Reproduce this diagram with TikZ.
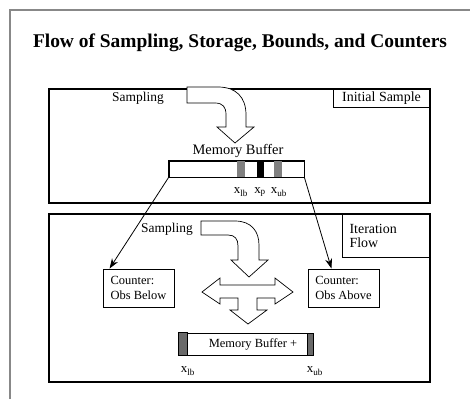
\documentclass[tikz,border=0pt]{standalone}
\usepackage{fontspec}
\setmainfont{Liberation Serif}
\usetikzlibrary{arrows.meta}
\definecolor{framegray}{RGB}{136,136,136}
\definecolor{bargray}{RGB}{128,128,128}
\definecolor{bardark}{RGB}{105,105,105}
\tikzstyle{panel} = [draw, line width=1.1pt]
\tikzstyle{tag} = [draw, line width=0.9pt, inner sep=0pt]
\tikzstyle{counter} = [draw, line width=0.9pt, minimum width=71bp,
    minimum height=38bp, align=left, font=\fontsize{12.5}{15}\selectfont]
\tikzstyle{fatarrow} = [draw, line width=0.7pt, fill=white, line join=miter]
\tikzstyle{txt} = [font=\fontsize{13.5}{15}\selectfont, inner sep=0pt]
\tikzstyle{xlab} = [font=\fontsize{13}{15}\selectfont, inner sep=0pt]
\tikzstyle{link} = [draw, line width=0.8pt, -{Stealth[length=10bp, width=7bp]}]

\begin{document}
\begin{tikzpicture}[x=1bp, y=-1bp]
    \useasboundingbox (0,0) rectangle (470,399);
    % outer frame and title
    \draw [framegray, line width=2bp] (10,399) -- (10,10) -- (470,10);
    \node [font=\bfseries\fontsize{19.5}{22}\selectfont] (title) at (240,43)
        {Flow of Sampling, Storage, Bounds, and Counters};
    % initial sample panel
    \draw [panel] (49,89) rectangle (430,203);
    \node [tag, minimum width=96bp, minimum height=18bp, anchor=north east,
        font=\fontsize{14}{16}\selectfont] (init) at (430,89) {Initial Sample};
    \node [txt] (samp1) at (138,98) {Sampling};
    \draw [fatarrow] (187,87) -- (218,87) .. controls (236,87) and (246,97) .. (246,115)
        -- (246,127) -- (254,127) -- (235,143) -- (217,127) -- (226,127) -- (226,115)
        .. controls (226,107) and (223,103) .. (215,103) -- (187,103) -- cycle;
    \node [draw, line width=0.8pt, minimum width=135bp, minimum height=16bp,
        inner sep=0pt] (buf) at (236.5,169) {};
    \fill [bargray] (237,161) rectangle (245,177);
    \fill [black] (257,161) rectangle (264,177);
    \fill [bargray] (274,161) rectangle (282,177);
    \draw [line width=0.8pt] (buf.north west) rectangle (buf.south east);
    \node [txt, font=\fontsize{14.5}{16}\selectfont] (buflab) at (238,151) {Memory Buffer};
    \node [xlab] (lb1) at (241,192) {x\textsubscript{lb}};
    \node [xlab] (p1) at (260,192) {x\textsubscript{p}};
    \node [xlab] (ub1) at (279,192) {x\textsubscript{ub}};
    % iteration panel
    \draw [panel] (49,214) rectangle (430,382);
    \node [tag, minimum height=43bp, text width=73bp, inner xsep=7bp, align=left,
        anchor=north east, font=\fontsize{14}{15}\selectfont] (iter) at (430,214)
        {Iteration\\Flow};
    \node [txt] (samp2) at (167,229) {Sampling};
    \draw [fatarrow] (201,221) -- (235,221) .. controls (252,221) and (259,232) .. (259,245)
        -- (259,260) -- (268,260) -- (249,277) -- (231,260) -- (238,260) -- (238,246)
        .. controls (238,239) and (235,235) .. (228,235) -- (201,235) -- cycle;
    \draw [fatarrow] (202,292) -- (220,278) -- (220,285) -- (275,285) -- (275,278)
        -- (293,292) -- (275,304) -- (275,298) -- (257,298) -- (257,310) -- (267,310)
        -- (248,324) -- (230,310) -- (238,310) -- (238,298) -- (220,298) -- (220,304)
        -- cycle;
    \node [counter] (below) at (138.5,288) {Counter:\\Obs Below};
    \node [counter] (above) at (343.5,288) {Counter:\\Obs Above};
    \node [draw, line width=0.8pt, minimum width=134bp, minimum height=22bp,
        inner sep=0pt, font=\fontsize{12.5}{15}\selectfont] (buf2) at (246,344)
        {\hspace*{14bp}Memory Buffer +};
    \filldraw [fill=bardark, line width=0.8pt] (buf2.north west) rectangle (187,355);
    \filldraw [fill=bardark, line width=0.8pt] (307,333) rectangle (buf2.south east);
    \node [xlab] (lb2) at (188,371) {x\textsubscript{lb}};
    \node [xlab] (ub2) at (315,371) {x\textsubscript{ub}};
    % links to counters
    \draw [link] (buf.south west) -- ([xshift=7bp]below.north west);
    \draw [link] (buf.south east) -- ([xshift=-48bp]above.north east);
\end{tikzpicture}
\end{document}
